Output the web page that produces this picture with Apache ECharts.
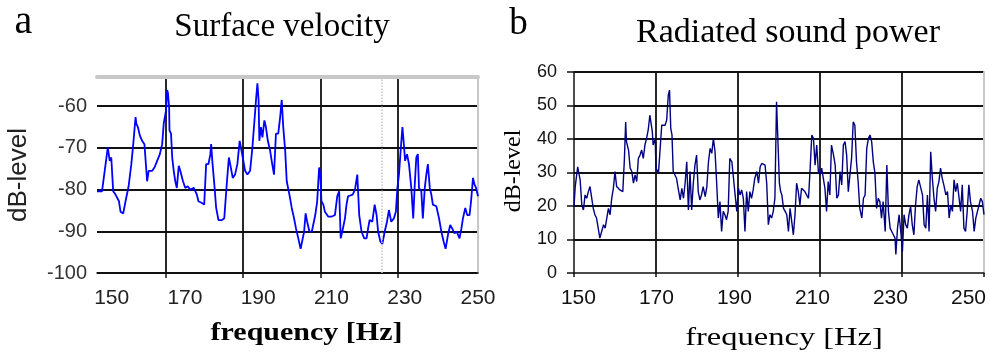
<!DOCTYPE html>
<html><head><meta charset="utf-8">
<script src="https://cdn.jsdelivr.net/npm/echarts@6.0.0/dist/echarts.min.js"></script>
<style>html,body{margin:0;padding:0;background:#fff}#c{width:997px;height:358px}</style>
</head><body><div id="c"></div>
<script>
// Panel a: surface velocity (dB-level)
const freqA = [
152.1,153.4,154.9,155.2,155.4,155.8,156.3,156.9,157.8,158.2,
158.9,159.5,160.3,161.0,161.5,162.1,162.3,162.7,163.2,163.8,
164.4,165.1,165.5,166.4,167.0,167.7,168.4,169.0,169.4,170.0,
170.3,170.5,170.8,170.9,171.3,171.6,172.0,172.4,172.8,173.3,
173.7,174.4,175.0,175.6,176.3,177.2,178.0,178.4,179.3,179.9,
180.4,181.0,181.5,181.7,182.0,182.6,183.0,183.6,184.5,185.1,
185.8,186.3,186.8,187.3,187.9,188.5,189.1,189.4,189.9,190.5,
191.1,191.8,192.4,192.8,193.4,193.7,194.0,194.2,194.6,195.0,
195.5,195.9,196.4,197.0,197.4,198.0,198.5,199.1,199.6,200.0,
200.4,200.9,201.3,202.0,202.6,203.2,203.7,204.3,204.9,205.4,
205.8,206.2,206.6,207.2,207.8,208.3,208.7,209.2,209.7,210.0,
210.3,210.8,211.2,212.1,212.9,213.8,214.4,214.9,215.3,215.7,
216.4,216.8,217.2,217.7,218.4,219.0,219.6,220.1,220.7,221.4,
222.0,222.4,222.8,223.5,224.1,224.6,225.0,225.6,226.1,226.7,
227.3,227.8,228.4,229.1,229.6,230.0,230.4,230.9,231.3,231.6,
232.0,232.5,233.0,233.6,234.1,234.5,234.9,235.3,235.6,236.2,
236.6,237.1,237.5,237.9,238.4,238.8,239.2,240.1,240.8,241.4,
242.0,242.5,243.1,243.7,244.2,244.8,245.4,246.1,246.6,247.0,
247.6,248.1,248.7,249.1,249.6,250.0,250.4,250.9];
const levelA = [
-80.4,-80.4,-69.9,-69.5,-73.1,-72.3,-80.4,-81.2,-82.8,-85.3,
-85.7,-82.8,-79.2,-73.9,-69.1,-62.6,-64.2,-65.0,-67.0,-68.3,
-69.1,-78.0,-75.5,-75.5,-74.7,-73.1,-71.5,-69.1,-64.2,-61.0,
-56.1,-56.9,-60.2,-65.8,-66.6,-72.3,-75.5,-78.0,-79.6,-74.3,
-75.5,-78.0,-79.6,-79.2,-80.0,-79.6,-81.2,-82.8,-83.2,-83.6,
-73.9,-73.9,-71.5,-69.1,-73.1,-79.6,-84.4,-87.3,-87.3,-86.9,
-78.0,-72.3,-74.7,-77.2,-76.4,-73.9,-68.3,-67.9,-72.3,-75.5,
-76.4,-75.5,-69.9,-69.9,-57.7,-54.5,-58.5,-68.3,-65.0,-67.5,
-63.4,-65.0,-68.3,-70.7,-73.1,-76.4,-66.6,-66.6,-62.6,-58.5,
-65.0,-70.7,-78.0,-81.2,-84.4,-86.9,-89.3,-91.7,-94.2,-94.6,
-90.1,-85.7,-87.7,-90.1,-90.1,-90.1,-86.1,-82.8,-74.7,-76.4,
-82.8,-83.6,-85.3,-86.5,-86.5,-86.1,-81.6,-80.4,-91.7,-90.1,
-86.9,-83.6,-81.6,-81.2,-81.2,-80.0,-76.4,-86.1,-90.1,-91.7,
-91.7,-89.3,-87.3,-87.7,-83.6,-86.1,-90.1,-92.5,-93.0,-90.1,
-87.7,-84.9,-87.7,-86.9,-85.3,-79.6,-76.4,-69.9,-65.0,-68.3,
-73.1,-71.5,-73.9,-79.6,-86.9,-78.8,-72.3,-71.5,-79.6,-80.4,
-86.9,-79.6,-76.4,-73.9,-79.6,-81.2,-83.6,-84.0,-86.9,-90.1,
-92.5,-94.2,-90.9,-88.5,-89.3,-90.5,-90.1,-91.7,-89.3,-86.9,
-84.4,-86.1,-86.1,-82.8,-77.2,-78.8,-79.6,-81.6];

// Panel b: radiated sound power (dB-level)
const freqB = [
150.0,150.3,150.7,150.9,151.3,151.5,151.9,152.3,152.7,153.1,
153.5,153.9,154.3,154.7,155.1,155.5,155.9,156.3,156.7,157.2,
157.6,158.0,158.4,158.8,159.2,159.6,160.0,160.4,160.8,161.2,
161.9,162.3,162.6,162.8,163.3,163.7,164.1,164.5,164.9,165.3,
165.7,166.1,166.5,166.9,167.3,167.7,168.1,168.5,168.8,169.1,
169.3,169.8,170.0,170.6,171.0,171.4,171.8,172.2,172.6,173.0,
173.3,173.6,173.9,174.2,174.6,175.0,175.4,175.9,176.3,176.7,
177.1,177.5,177.9,178.3,178.7,179.1,179.5,179.9,180.3,180.7,
181.1,181.5,182.0,182.4,182.8,183.2,183.6,184.0,184.4,184.8,
185.2,185.6,186.0,186.4,186.8,187.2,187.6,188.0,188.5,188.9,
189.3,189.7,190.1,190.5,190.9,191.3,191.7,192.1,192.5,192.9,
193.3,193.7,194.1,194.6,195.0,195.4,195.8,196.2,196.6,197.0,
197.4,197.8,198.2,198.6,199.0,199.4,199.8,200.1,200.4,200.7,
201.1,201.5,201.9,202.3,202.7,203.1,203.5,203.9,204.3,204.7,
205.1,205.5,205.9,206.3,206.7,207.2,207.6,208.0,208.4,208.8,
209.2,209.6,210.0,210.4,210.8,211.2,211.6,212.0,212.4,212.8,
213.3,213.7,214.1,214.5,214.9,215.3,215.7,216.1,216.5,216.9,
217.3,217.7,218.1,218.5,218.9,219.3,219.7,220.2,220.6,221.0,
221.4,221.8,222.2,222.6,223.0,223.4,223.8,224.2,224.6,225.0,
225.4,225.9,226.3,226.7,227.1,227.5,227.9,228.3,228.5,228.9,
229.3,229.7,230.1,230.5,230.9,231.3,231.7,232.1,232.5,232.9,
233.3,233.7,234.1,234.5,235.0,235.4,235.8,236.2,236.6,237.0,
237.4,237.8,238.2,238.6,239.0,239.4,239.8,240.2,240.7,241.1,
241.5,241.9,242.3,242.7,243.1,243.5,243.9,244.3,244.7,245.1,
245.5,245.9,246.3,246.7,247.2,247.6,248.0,248.4,248.8,249.2,
249.6,250.0];
const powerB = [
19.8,25.8,26.3,31.7,31.3,27.8,20.3,18.8,23.3,22.3,
24.3,25.8,25.3,19.3,17.4,16.4,13.4,10.4,10.4,14.4,
13.4,16.4,19.3,17.4,22.3,25.3,30.3,25.8,25.3,24.8,
24.3,34.2,45.1,39.2,36.7,31.3,30.3,26.8,29.3,27.3,
34.2,35.2,36.7,34.2,38.2,40.2,42.7,47.1,47.1,42.2,
38.2,40.2,31.3,29.8,29.3,44.1,43.7,44.1,45.6,53.1,
54.6,43.2,41.2,30.3,29.8,28.3,25.3,21.8,25.3,22.3,
26.8,33.2,18.8,30.3,18.8,26.8,32.2,35.2,24.3,21.8,
23.3,25.8,22.8,25.8,33.2,37.2,35.7,40.2,36.2,26.8,
16.4,21.3,12.4,18.4,17.4,15.9,18.4,34.2,33.2,28.3,
23.3,18.4,25.3,23.3,24.8,22.3,12.4,24.3,18.4,24.3,
22.3,24.8,28.3,30.3,26.8,31.7,32.7,33.2,32.2,26.8,
14.4,17.4,16.4,18.4,22.3,51.1,51.6,26.8,24.3,23.3,
19.3,18.4,17.4,12.4,19.3,15.4,11.4,17.4,26.8,24.3,
20.3,25.3,24.8,24.3,24.8,22.3,31.3,41.2,40.2,32.2,
38.2,30.3,29.3,31.3,28.3,25.3,18.4,27.3,23.3,38.2,
35.2,32.2,22.3,23.3,30.3,26.3,38.2,39.2,35.2,24.3,
29.3,34.2,45.1,44.1,33.2,27.3,19.3,16.4,22.3,23.3,
37.2,40.2,41.2,39.2,33.2,29.8,19.3,22.3,21.3,16.4,
21.3,12.4,32.2,18.4,13.4,12.4,11.4,10.4,5.5,13.4,
17.4,12.4,6.4,17.4,14.4,13.4,17.4,19.8,14.4,11.4,
20.3,25.8,27.8,25.8,23.3,14.4,13.4,23.3,12.4,36.2,
28.3,22.3,18.4,25.3,27.3,31.3,28.3,26.3,23.3,24.3,
16.4,20.3,18.4,27.8,24.3,26.8,26.3,18.4,26.3,13.4,
12.4,18.4,26.3,21.3,18.4,12.4,16.4,18.4,18.4,22.3,
21.3,17.4];

const xTickLabels = [150, 170, 190, 210, 230, 250];
const gridFreqA = [170, 190, 210, 230];
const dottedFreqA = 225.9;

const SERIF = '"Liberation Serif", "Times New Roman", serif';
const SANS = '"Liberation Sans", Arial, sans-serif';

const zip = (xs, ys) => xs.map((x, i) => [x, ys[i]]);
const blackLine = { color: '#111', width: 1.8 };
const hidden = { show: false };

const chart = echarts.init(document.getElementById('c'), null, { renderer: 'canvas' });
chart.setOption({
  animation: false,
  backgroundColor: '#fff',
  grid: [
    { left: 97, right: 519, top: 77, bottom: 85 },
    { left: 574, right: 13, top: 72, bottom: 85 }
  ],
  xAxis: [
    { gridIndex: 0, type: 'value', position: 'bottom', min: 152.1, max: 250.9,
      axisLine: { show: true, lineStyle: { color: '#111', width: 1.5 } },
      axisTick: { show: true, customValues: gridFreqA, length: 5, lineStyle: { color: '#111', width: 1.5 } },
      axisLabel: hidden,
      splitLine: { show: true, lineStyle: blackLine } },
    { gridIndex: 0, type: 'value', position: 'bottom', min: 146, max: 250,
      axisLine: hidden, axisTick: hidden, splitLine: hidden,
      axisLabel: { customValues: xTickLabels, margin: 15, fontFamily: SANS, fontSize: 21, color: '#222' } },
    { gridIndex: 0, type: 'value', position: 'top', min: 0, max: 1,
      axisLine: { show: true, lineStyle: { color: '#c8c8c8', width: 4 } },
      axisTick: hidden, axisLabel: hidden, splitLine: hidden },
    { gridIndex: 1, type: 'value', position: 'bottom', min: 150, max: 250, interval: 20,
      axisLine: { show: true, lineStyle: { color: '#111', width: 1.5 } },
      axisTick: { show: true, length: 4, lineStyle: { color: '#111', width: 1.5 } },
      axisLabel: hidden,
      splitLine: { show: true, showMinLine: false, showMaxLine: false, lineStyle: blackLine } },
    { gridIndex: 1, type: 'value', position: 'bottom', min: 148.87, max: 253.98,
      axisLine: hidden, axisTick: hidden, splitLine: hidden,
      axisLabel: { customValues: xTickLabels, margin: 15, fontFamily: SANS, fontSize: 21, color: '#111' } }
  ],
  yAxis: [
    { gridIndex: 0, type: 'value', position: 'left', min: -100, max: -53, interval: 10,
      axisLine: hidden, axisTick: hidden,
      axisLabel: { margin: 10, fontFamily: SANS, fontSize: 20, color: '#333', showMaxLabel: false },
      splitLine: { show: true, showMaxLine: false, lineStyle: blackLine } },
    { gridIndex: 0, type: 'value', position: 'right', min: 0, max: 1,
      axisLine: { show: true, lineStyle: { color: '#c8c8c8', width: 2 } },
      axisTick: hidden, axisLabel: hidden, splitLine: hidden },
    { gridIndex: 1, type: 'value', position: 'left', min: 0, max: 60, interval: 10,
      axisLine: { show: true, lineStyle: { color: '#111', width: 1.5 } },
      axisTick: { show: true, length: 7, lineStyle: { color: '#111', width: 1.5 } },
      axisLabel: { margin: 17, fontFamily: SANS, fontSize: 18, color: '#111' },
      splitLine: { show: true, showMinLine: false, lineStyle: blackLine } },
    { gridIndex: 1, type: 'value', position: 'right', min: 0, max: 1,
      axisLine: { show: true, lineStyle: { color: '#c8c8c8', width: 2 } },
      axisTick: hidden, axisLabel: hidden, splitLine: hidden }
  ],
  series: [
    { name: 'Surface velocity', type: 'line', xAxisIndex: 0, yAxisIndex: 0,
      data: zip(freqA, levelA), symbol: 'none', lineStyle: { color: '#0000ff', width: 1.8 },
      markLine: { silent: true, symbol: ['none', 'none'], label: hidden,
        lineStyle: { color: '#c8c8c8', type: 'dotted', width: 1.5 },
        data: [{ xAxis: dottedFreqA }] } },
    { name: 'Radiated sound power', type: 'line', xAxisIndex: 3, yAxisIndex: 2,
      data: zip(freqB, powerB), symbol: 'none', lineStyle: { color: '#000080', width: 1.4 } }
  ],
  graphic: [
    { type: 'text', x: 23.5, y: 22, style: { text: 'a', font: '40px ' + SERIF, fill: '#000', align: 'center', verticalAlign: 'middle' } },
    { type: 'text', x: 282, y: 27, style: { text: 'Surface velocity', font: '33px ' + SERIF, fill: '#000', align: 'center', verticalAlign: 'middle' } },
    { type: 'text', x: 518.5, y: 24, style: { text: 'b', font: '37px ' + SERIF, fill: '#000', align: 'center', verticalAlign: 'middle' } },
    { type: 'text', x: 788, y: 33, style: { text: 'Radiated sound power', font: '34px ' + SERIF, fill: '#000', align: 'center', verticalAlign: 'middle' } },
    { type: 'text', x: 306.5, y: 334, scaleX: 1.2, style: { text: 'frequency [Hz]', font: 'bold 25px ' + SERIF, fill: '#000', align: 'center', verticalAlign: 'middle' } },
    { type: 'text', x: 784, y: 338, scaleX: 1.3, style: { text: 'frequency [Hz]', font: '25px ' + SERIF, fill: '#000', align: 'center', verticalAlign: 'middle' } },
    { type: 'text', x: 19, y: 175, rotation: Math.PI / 2, style: { text: 'dB-level', font: '26px ' + SANS, fill: '#222', align: 'center', verticalAlign: 'middle' } },
    { type: 'text', x: 514, y: 171, rotation: Math.PI / 2, style: { text: 'dB-level', font: '24px ' + SERIF, fill: '#000', align: 'center', verticalAlign: 'middle' } }
  ]
});
</script>
</body></html>
